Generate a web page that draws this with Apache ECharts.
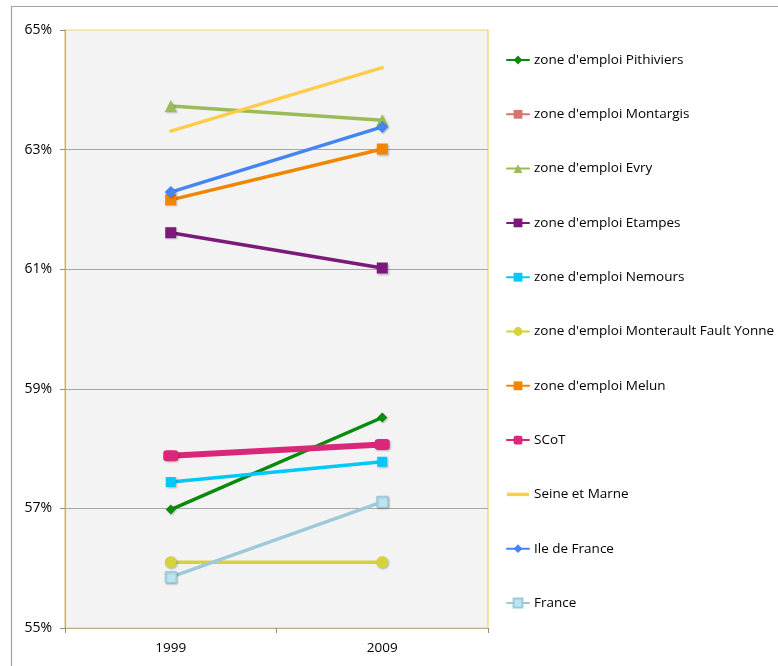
<!DOCTYPE html>
<html>
<head>
<meta charset="utf-8">
<script src="https://cdn.jsdelivr.net/npm/echarts@6/dist/echarts.min.js"></script>
<style>html,body{margin:0;padding:0;background:#fff}#c{width:778px;height:666px}</style>
</head>
<body>
<div id="c"></div>
<script>
const categories = ['1999', '2009'];
const seriesNames = [
  "zone d'emploi Pithiviers",
  "zone d'emploi Montargis",
  "zone d'emploi Evry",
  "zone d'emploi Etampes",
  "zone d'emploi Nemours",
  "zone d'emploi Monterault Fault Yonne",
  "zone d'emploi Melun",
  "SCoT",
  "Seine et Marne",
  "Ile de France",
  "France"
];
const pithiviers = [56.98, 58.52];
const montargis = [null, null];
const evry = [63.73, 63.49];
const etampes = [61.61, 61.02];
const nemours = [57.44, 57.78];
const monterault = [56.10, 56.10];
const melun = [62.16, 63.01];
const scot = [57.88, 58.07];
const seineEtMarne = [63.31, 64.37];
const ileDeFrance = [62.29, 63.38];
const france = [55.85, 57.11];
const yTicks = [55, 57, 59, 61, 63, 65];

const FONT = "'Open Sans', sans-serif";
const styles = [
  {data: pithiviers, color: '#0a8a0a', symbol: 'diamond', size: 10, width: 3.5},
  {data: montargis, color: '#d9736e', symbol: 'rect', size: 10, width: 3.5},
  {data: evry, color: '#9bbb59', symbol: 'triangle', size: 12, width: 3.5},
  {data: etampes, color: '#7b1a7b', symbol: 'rect', size: 11, width: 3.5},
  {data: nemours, color: '#00c8f8', symbol: 'rect', size: 10, width: 3.5},
  {data: monterault, color: '#d6d23c', symbol: 'circle', size: 12, width: 3.5},
  {data: melun, color: '#ef8500', symbol: 'rect', size: 11, width: 3.5},
  {data: scot, color: '#d9287a', symbol: 'roundRect', size: [15, 11], width: 6},
  {data: seineEtMarne, color: '#ffcd4a', symbol: 'none', size: 0, width: 3.5},
  {data: ileDeFrance, color: '#4585f2', symbol: 'diamond', size: 12, width: 3.5},
  {data: france, color: '#9dcad9', symbol: 'rect', size: 11, width: 3.5, fill: '#b9e6f2'}
];

const series = seriesNames.map((name, i) => {
  const s = styles[i];
  return {
    name: name,
    type: 'line',
    data: s.data,
    symbol: s.symbol,
    symbolSize: s.size,
    showSymbol: s.symbol !== 'none',
    color: s.color,
    lineStyle: {width: s.width, color: s.color, cap: 'round'},
    itemStyle: {color: s.fill || s.color, borderColor: s.color, borderWidth: s.fill ? 1 : 0,
      shadowColor: 'rgba(0,0,0,0.25)', shadowBlur: 2, shadowOffsetX: 1, shadowOffsetY: 1},
    emphasis: {disabled: true},
    animation: false,
    z: 3
  };
});

const legendData = seriesNames.map((name, i) =>
  styles[i].symbol === 'none'
    ? {name: name, icon: 'path://M0,0 L22,0 L22,3.5 L0,3.5 Z', itemStyle: {color: styles[i].color}}
    : {name: name}
);

const chart = echarts.init(document.getElementById('c'), null, {renderer: 'canvas'});
chart.setOption({
  backgroundColor: '#ffffff',
  animation: false,
  textStyle: {fontFamily: FONT},
  grid: {
    left: 65, right: 290, top: 30, bottom: 38,
    show: true, backgroundColor: '#f3f3f3', borderColor: '#f2d06e', borderWidth: 1.2
  },
  graphic: [{
    type: 'rect', left: 9, top: 4, silent: true,
    shape: {x: 0, y: 0, width: 800, height: 700},
    style: {fill: 'none', stroke: '#a3a3a3', lineWidth: 1.2}, z: -1
  }],
  legend: {
    orient: 'vertical', left: 506, top: 52, padding: 0,
    itemWidth: 22, itemHeight: 11, itemGap: 38.3,
    textStyle: {fontFamily: FONT, fontSize: 13.5, color: '#000', lineHeight: 16},
    data: legendData
  },
  xAxis: {
    type: 'category', data: categories, boundaryGap: true,
    axisLine: {show: true, lineStyle: {color: '#bdb08c', width: 1.2}},
    axisTick: {show: true, length: 5, lineStyle: {color: '#8c8c8c'}},
    axisLabel: {fontFamily: FONT, fontSize: 13.5, color: '#000', margin: 13},
    splitLine: {show: false}
  },
  yAxis: {
    type: 'value', min: yTicks[0], max: yTicks[yTicks.length - 1], interval: 2,
    axisLine: {show: true, lineStyle: {color: '#bdb08c', width: 1.2}},
    axisTick: {show: true, length: 5, lineStyle: {color: '#8c8c8c'}},
    axisLabel: {fontFamily: FONT, fontSize: 14, color: '#000', margin: 13, formatter: '{value}%'},
    splitLine: {show: true, showMinLine: false, showMaxLine: false, lineStyle: {color: '#a8a8a8', width: 1.2}}
  },
  series: series
});
</script>
</body>
</html>
